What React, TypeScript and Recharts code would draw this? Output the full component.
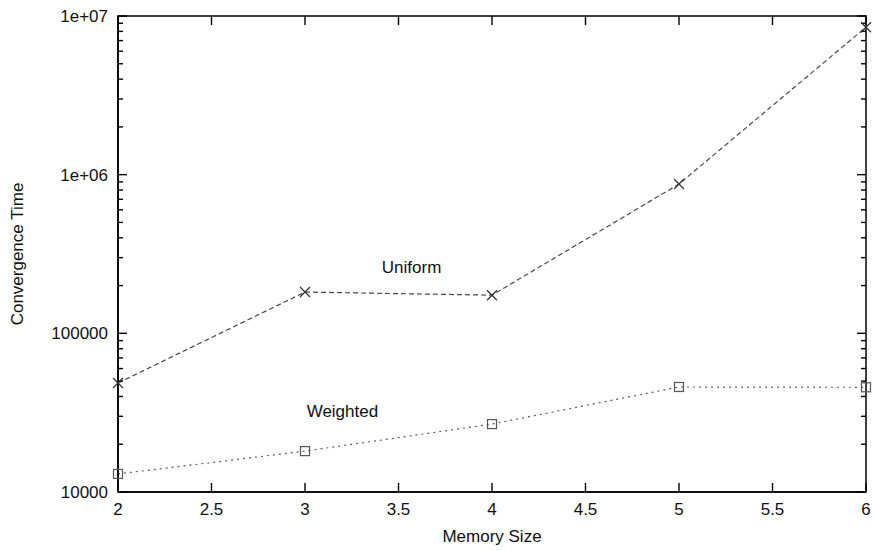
import { LineChart, Line, XAxis, YAxis, ReferenceDot, ReferenceArea } from "recharts";

const memorySize = [2, 3, 4, 5, 6];
const uniformTime = [48600, 182000, 174000, 873000, 8500000];
const weightedTime = [13000, 18100, 26800, 45900, 45700];

const xTicks = [2, 2.5, 3, 3.5, 4, 4.5, 5, 5.5, 6];
const majorY = [10000, 100000, 1000000, 10000000];
const yLabels = ["10000", "100000", "1e+06", "1e+07"];
const minorY = [10000, 100000, 1000000].flatMap((d) => [2, 3, 4, 5, 6, 7, 8, 9].map((m) => m * d));
const yTicks = [...majorY, ...minorY].sort((a, b) => a - b);

const X_MIN = 2;
const X_MAX = 6;
const Y_MIN = 10000;
const Y_MAX = 10000000;

const data = memorySize.map((m, i) => ({
  size: m,
  uniform: uniformTime[i],
  weighted: weightedTime[i],
}));

const W = 875;
const H = 550;
const M_TOP = 16;
const M_RIGHT = 9;
const Y_WIDTH = 118;
const X_HEIGHT = 58;

const FONT = "'Liberation Sans', Arial, sans-serif";

const isMajor = (v: number) => majorY.includes(v);

const LeftTick = (props: any) => {
  const { x, y, payload } = props;
  const idx = majorY.indexOf(payload.value);
  if (idx < 0) return <g />;
  return (
    <text x={x - 2} y={y} dy={6} textAnchor="end" fontSize={17} fill="#111" fontFamily={FONT}>
      {yLabels[idx]}
    </text>
  );
};

const BottomTick = (props: any) => {
  const { x, y, payload } = props;
  return (
    <text x={x} y={y} dy={15} textAnchor="middle" fontSize={17} fill="#111" fontFamily={FONT}>
      {String(payload.value)}
    </text>
  );
};

// inward tick marks, drawn as shapes anchored on scaled points
const tickMark = (dx: number, dy: number) => (p: any) => (
  <path d={`M${p.cx},${p.cy}l${dx},${dy}`} stroke="#000" strokeWidth={1.4} fill="none" />
);

const CrossDot = (props: any) => {
  const { cx, cy, index } = props;
  if (cx == null || cy == null) return <g key={index} />;
  const s = 5;
  return (
    <path
      key={index}
      d={`M${cx - s},${cy - s}L${cx + s},${cy + s}M${cx - s},${cy + s}L${cx + s},${cy - s}`}
      stroke="#333"
      strokeWidth={1.3}
      fill="none"
    />
  );
};

const SquareDot = (props: any) => {
  const { cx, cy, index } = props;
  if (cx == null || cy == null) return <g key={index} />;
  const s = 4.5;
  return <rect key={index} x={cx - s} y={cy - s} width={2 * s} height={2 * s} stroke="#555" strokeWidth={1.2} fill="none" />;
};

export default function App() {
  return (
    <div style={{ position: "absolute", left: 0, top: 0, width: W, height: H, background: "#fff", fontFamily: FONT }}>
      <LineChart width={W} height={H} data={data} margin={{ top: M_TOP, right: M_RIGHT, bottom: 0, left: 0 }}>
        <XAxis
          dataKey="size"
          type="number"
          domain={[X_MIN, X_MAX]}
          ticks={xTicks}
          height={X_HEIGHT}
          axisLine={{ stroke: "#000", strokeWidth: 1.5 }}
          tickLine={false}
          tick={<BottomTick />}
          interval={0}
          label={{ value: "Memory Size", position: "insideBottom", offset: 8, fontSize: 17, fill: "#111", fontFamily: FONT }}
        />
        <YAxis
          scale="log"
          type="number"
          domain={[Y_MIN, Y_MAX]}
          allowDataOverflow
          ticks={yTicks}
          interval={0}
          width={Y_WIDTH}
          axisLine={{ stroke: "#000", strokeWidth: 1.5 }}
          tickLine={false}
          tick={<LeftTick />}
          label={{
            value: "Convergence Time",
            angle: -90,
            position: "insideLeft",
            offset: 17,
            fontSize: 17,
            fill: "#111",
            fontFamily: FONT,
            style: { textAnchor: "middle" },
          }}
        />
        <ReferenceArea
          x1={X_MIN}
          x2={X_MAX}
          y1={Y_MIN}
          y2={Y_MAX}
          fill="none"
          fillOpacity={0}
          stroke="#000"
          strokeWidth={1.5}
          ifOverflow="visible"
        />
        {yTicks.map((v) => (
          <ReferenceDot key={`l${v}`} x={X_MIN} y={v} r={1} ifOverflow="visible" shape={tickMark(isMajor(v) ? 9 : 5, 0)} />
        ))}
        {yTicks.map((v) => (
          <ReferenceDot key={`r${v}`} x={X_MAX} y={v} r={1} ifOverflow="visible" shape={tickMark(isMajor(v) ? -9 : -5, 0)} />
        ))}
        {xTicks.map((v) => (
          <ReferenceDot key={`b${v}`} x={v} y={Y_MIN} r={1} ifOverflow="visible" shape={tickMark(0, -9)} />
        ))}
        {xTicks.map((v) => (
          <ReferenceDot key={`t${v}`} x={v} y={Y_MAX} r={1} ifOverflow="visible" shape={tickMark(0, 9)} />
        ))}
        <Line
          dataKey="uniform"
          stroke="#4a4a4a"
          strokeWidth={1.2}
          strokeDasharray="5 3"
          dot={CrossDot}
          activeDot={false}
          isAnimationActive={false}
        />
        <Line
          dataKey="weighted"
          stroke="#5a5a5a"
          strokeWidth={1.2}
          strokeDasharray="2 4"
          dot={SquareDot}
          activeDot={false}
          isAnimationActive={false}
        />
        <ReferenceDot
          x={3.57}
          y={262000}
          r={0}
          fill="none"
          stroke="none"
          label={{ value: "Uniform", position: "center", fontSize: 17, fill: "#111", fontFamily: FONT }}
        />
        <ReferenceDot
          x={3.2}
          y={32500}
          r={0}
          fill="none"
          stroke="none"
          label={{ value: "Weighted", position: "center", fontSize: 17, fill: "#111", fontFamily: FONT }}
        />
      </LineChart>
    </div>
  );
}
